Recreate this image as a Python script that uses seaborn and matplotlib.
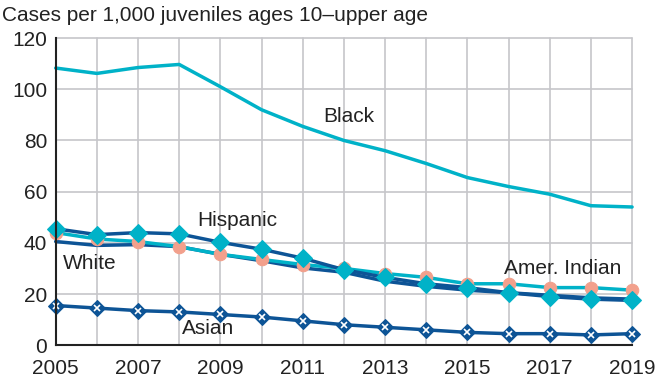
import numpy as np
import pandas as pd
import seaborn as sns
import matplotlib.pyplot as plt

years = list(range(2005, 2020))
black = [108.3, 106.2, 108.5, 109.7, 101.0, 92.0, 85.5, 80.0, 76.0, 71.0, 65.5, 62.0, 59.0, 54.5, 54.0]
hispanic = [45.5, 43.2, 44.0, 43.5, 40.2, 37.5, 34.0, 29.5, 26.5, 24.0, 22.5, 20.5, 19.0, 18.0, 17.5]
white = [40.5, 39.0, 39.3, 38.5, 35.5, 33.0, 30.2, 28.5, 25.0, 23.0, 21.5, 20.5, 19.5, 18.5, 18.0]
amer_indian = [44.0, 41.5, 40.5, 38.5, 35.5, 33.5, 31.5, 30.0, 28.0, 26.5, 24.0, 24.0, 22.5, 22.5, 21.5]
asian = [15.5, 14.5, 13.5, 13.0, 12.0, 11.0, 9.5, 8.0, 7.0, 6.0, 5.0, 4.5, 4.5, 4.0, 4.5]

df = pd.DataFrame({'year': years, 'Black': black, 'Hispanic': hispanic, 'White': white,
                   'Amer. Indian': amer_indian, 'Asian': asian})

cyan = '#00b2c8'
navy = '#0d5496'
salmon = '#f2a08c'

sns.set_style('white')
plt.rcParams['font.family'] = ['Liberation Sans', 'DejaVu Sans']

fig = plt.figure(figsize=(6.71, 3.81), dpi=100)
ax = fig.add_axes([0.083, 0.094, 0.859, 0.806])

# gridlines
for y in range(0, 121, 20):
    ax.axhline(y, color='#c6c6ca', lw=1.2, zorder=0)
for x in years:
    ax.axvline(x, color='#c6c6ca', lw=1.2, zorder=0)

sns.lineplot(data=df, x='year', y='Black', color=cyan, lw=2.5, ax=ax)
sns.lineplot(data=df, x='year', y='White', color=navy, lw=2.5, ax=ax)
sns.lineplot(data=df, x='year', y='Amer. Indian', color=cyan, lw=2.5, marker='o',
             markersize=9, markerfacecolor=salmon, markeredgecolor=salmon, ax=ax)
sns.lineplot(data=df, x='year', y='Hispanic', color=navy, lw=2.5, marker='D',
             markersize=9, markerfacecolor=cyan, markeredgecolor=cyan, ax=ax)
sns.lineplot(data=df, x='year', y='Asian', color=navy, lw=2.5, marker='D',
             markersize=8, markerfacecolor=navy, markeredgecolor=navy, ax=ax)
ax.plot(df['year'], df['Asian'], ls='none', marker='x', markersize=5, mew=1.2, color='white')

ax.set_xlim(2005, 2019)
ax.set_ylim(0, 120)
ax.set_xticks(years)
ax.set_xticklabels([str(y) if (y - 2005) % 2 == 0 else '' for y in years])
ax.set_yticks(range(0, 121, 20))
ax.tick_params(axis='both', labelsize=15, length=4, width=1.2, color='#222222',
               labelcolor='#222222')
ax.tick_params(axis='y', direction='out', pad=2)
ax.tick_params(axis='x', direction='out', pad=6)
ax.set_xlabel('')
ax.set_ylabel('')
for s in ['top', 'right']:
    ax.spines[s].set_visible(False)
for s in ['left', 'bottom']:
    ax.spines[s].set_color('#222222')
    ax.spines[s].set_linewidth(1.5)
for ln in ax.lines:
    ln.set_clip_on(False)

fig.text(0.003, 0.96, 'Cases per 1,000 juveniles ages 10\u2013upper age', fontsize=15,
         color='#222222', va='center', ha='left')

lbl = dict(fontsize=15, color='#222222', va='center', ha='left')
ax.text(2011.5, 89.5, 'Black', **lbl)
ax.text(2008.45, 48.9, 'Hispanic', **lbl)
ax.text(2005.17, 32.0, 'White', **lbl)
ax.text(2008.07, 6.6, 'Asian', **lbl)
ax.text(2015.88, 30.1, 'Amer. Indian', **lbl)

fig.savefig('out.png', dpi=100)
